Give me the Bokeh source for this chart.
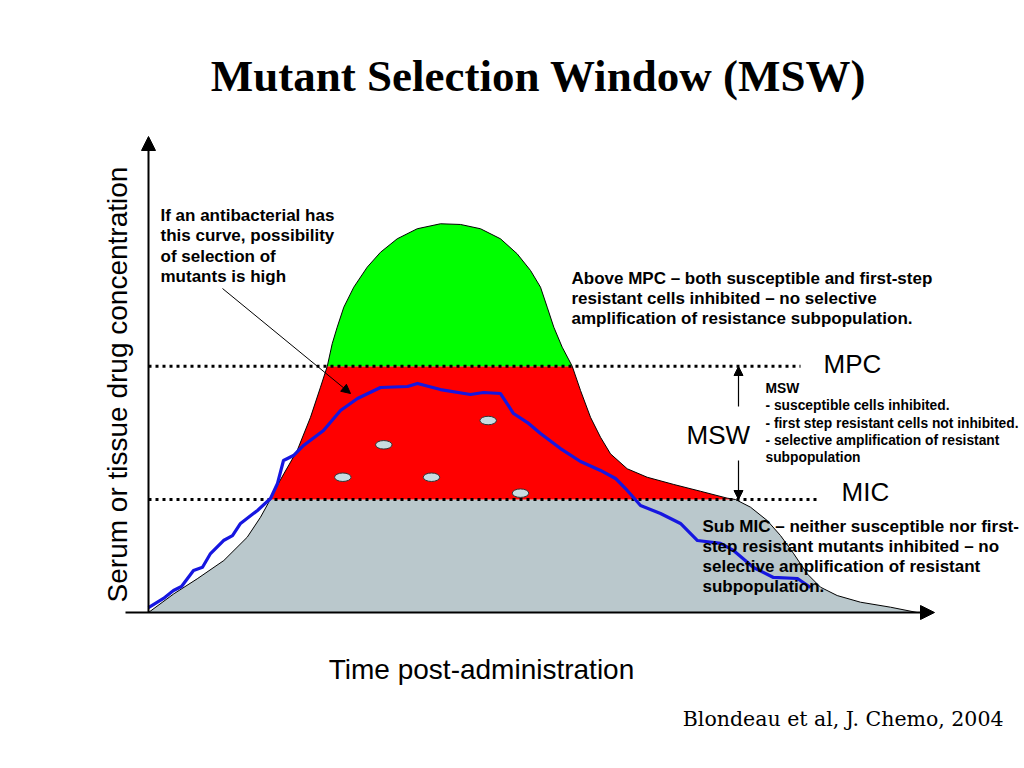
from bokeh.plotting import figure
from bokeh.models import Range1d, Label, Arrow, NormalHead
from bokeh.embed import file_html
from bokeh.resources import INLINE
import numpy as np

# ---------------- data (time in h, concentration in MIC multiples) ----------------
MIC = 1.0
MPC = 2.18

curve_t = [0.0, 0.843, 1.623, 2.51, 3.29, 3.733, 4.01, 4.033, 4.51, 4.957, 5.4, 5.733,
           5.96, 6.123, 6.29, 6.51, 6.843, 7.29, 7.733, 8.29, 8.957, 9.733, 10.4, 11.067,
           11.733, 12.29, 12.733, 13.067, 13.29, 13.51, 13.79, 14.123, 14.4, 14.733, 15.067,
           15.4, 15.957, 16.623, 17.51, 18.4, 19.29, 19.567, 20.067, 20.623, 21.067, 21.51,
           21.957, 22.4, 22.957, 23.733, 24.733, 25.62]
curve_c = [0.0, 0.165, 0.298, 0.460, 0.666, 0.843, 0.976, 1.0, 1.227, 1.434, 1.728, 1.994,
           2.18, 2.378, 2.525, 2.702, 2.879, 3.056, 3.188, 3.307, 3.396, 3.44, 3.434, 3.396,
           3.307, 3.174, 3.027, 2.879, 2.702, 2.525, 2.348, 2.18, 1.965, 1.728, 1.551,
           1.404, 1.272, 1.197, 1.133, 1.073, 1.012, 1.0, 0.932, 0.814, 0.681, 0.519,
           0.342, 0.224, 0.150, 0.091, 0.047, 0.0]

blue_t = [0.0, 0.5, 0.833, 1.1, 1.5, 1.8, 2.067, 2.5, 2.8, 3.067, 3.633, 4.067, 4.3, 4.5,
          4.833, 5.167, 5.833, 6.4, 6.967, 7.733, 8.633, 8.967, 9.733, 10.733, 11.167,
          11.733, 12.167, 12.633, 13.067, 13.733, 14.4, 15.067, 15.567, 15.9, 16.167, 16.4,
          17.067, 17.733, 18.3, 19.067, 19.5, 20.167, 20.833, 21.633, 22.067]
blue_c = [0.044, 0.124, 0.195, 0.230, 0.372, 0.400, 0.522, 0.637, 0.680, 0.788, 0.903,
          1.009, 1.142, 1.345, 1.389, 1.478, 1.611, 1.788, 1.894, 1.991, 2.0, 2.027, 1.973,
          1.929, 1.947, 1.938, 1.761, 1.681, 1.584, 1.451, 1.336, 1.257, 1.186, 1.097,
          1.018, 0.947, 0.876, 0.788, 0.637, 0.611, 0.549, 0.398, 0.310, 0.301, 0.221]

mutant_t = [7.843, 11.323, 6.477, 9.433, 12.4]
mutant_c = [1.484, 1.699, 1.197, 1.197, 1.056]

# ---------------- layout helpers (reference pixel -> data) ----------------
SX, SY = 30.0, 113.0
def tx(X):
    return (X - 148) / SX
def cy(Y):
    return (612 - Y) / SY

W, H = 1024, 768
p = figure(width=W, height=H, output_backend="svg", toolbar_location=None,
           x_range=Range1d(tx(0), tx(W)), y_range=Range1d(cy(H), cy(0)),
           min_border=0, background_fill_color="white", border_fill_color="white",
           outline_line_color=None)
p.axis.visible = False
p.grid.visible = False

t = np.array(curve_t)
c = np.array(curve_c)
p.varea(x=t, y1=np.zeros_like(c), y2=np.minimum(c, MIC), fill_color="#BAC8CC")
p.varea(x=t, y1=np.full_like(c, MIC), y2=np.clip(c, MIC, MPC), fill_color="#FF0000")
p.varea(x=t, y1=np.full_like(c, MPC), y2=np.maximum(c, MPC), fill_color="#00FF00")
p.line(t, c, line_color="black", line_width=1)

# threshold dotted lines
p.line([0, tx(820)], [MIC, MIC], line_color="black", line_width=3, line_dash="3 4")
p.line([0, tx(800)], [MPC, MPC], line_color="black", line_width=3, line_dash="3 4")

# mutants
p.ellipse(x=mutant_t, y=mutant_c, width=0.55, height=0.075, fill_color="#C8DCE2",
          line_color="#333333", line_width=1)

# blue curve
p.line(blue_t, blue_c, line_color="#1616E0", line_width=3.2, line_join="round")

# axes arrows
p.add_layout(Arrow(x_start=0, y_start=0, x_end=0, y_end=cy(136), line_width=2,
                   end=NormalHead(size=14, fill_color="black", line_color="black")))
p.add_layout(Arrow(x_start=tx(125), y_start=0, x_end=tx(934), y_end=0, line_width=2,
                   end=NormalHead(size=14, fill_color="black", line_color="black")))

# annotation arrows
p.add_layout(Arrow(x_start=tx(222), y_start=cy(288), x_end=tx(350), y_end=cy(393),
                   line_width=1, end=NormalHead(size=9, fill_color="black")))
p.add_layout(Arrow(x_start=tx(738), y_start=cy(406), x_end=tx(738), y_end=cy(366),
                   line_width=1.2, end=NormalHead(size=9, fill_color="black")))
p.add_layout(Arrow(x_start=tx(738), y_start=cy(460), x_end=tx(738), y_end=cy(499),
                   line_width=1.2, end=NormalHead(size=9, fill_color="black")))

SANS = "Liberation Sans"

def lab(X, Y, text, size, font=SANS, style="normal", align="left", angle=0):
    p.add_layout(Label(x=tx(X), y=cy(Y), text=text, text_font=font,
                       text_font_size=size, text_font_style=style, text_align=align,
                       text_baseline="alphabetic", angle=angle, text_color="black"))

lab(538, 75, "Mutant Selection Window (MSW)", "45px", font="Liberation Serif",
    style="bold", align="center")
lab(117, 384, "Serum or tissue drug concentration", "28px", align="center",
    angle=np.pi / 2)
lab(481, 669, "Time post-administration", "28px", align="center")
lab(1003, 718, "Blondeau et al, J. Chemo, 2004", "20.5px", font="DejaVu Serif",
    align="right")

for i, s in enumerate(["If an antibacterial has", "this curve, possibility",
                       "of selection of", "mutants is high"]):
    lab(160, 215 + 20.3 * i, s, "17px", style="bold")

for i, s in enumerate(["Above MPC \u2013 both susceptible and first-step",
                       "resistant cells inhibited \u2013 no selective",
                       "amplification of resistance subpopulation."]):
    lab(571, 278 + 20 * i, s, "17px", style="bold")

for i, s in enumerate(["Sub MIC \u2013 neither susceptible nor first-",
                       "step resistant mutants inhibited \u2013 no",
                       "selective amplification of resistant",
                       "subpopulation."]):
    lab(702, 526 + 20 * i, s, "17px", style="bold")

for i, s in enumerate(["MSW", "- susceptible cells inhibited.",
                       "- first step resistant cells not inhibited.",
                       "- selective amplification of resistant", "subpopulation"]):
    lab(765, 388 + 17.3 * i, s, "13.8px", style="bold")

lab(823, 363, "MPC", "26px")
lab(686, 434, "MSW", "26px")
lab(841, 491, "MIC", "26px")

open("out.html", "w").write(file_html(p, INLINE))
